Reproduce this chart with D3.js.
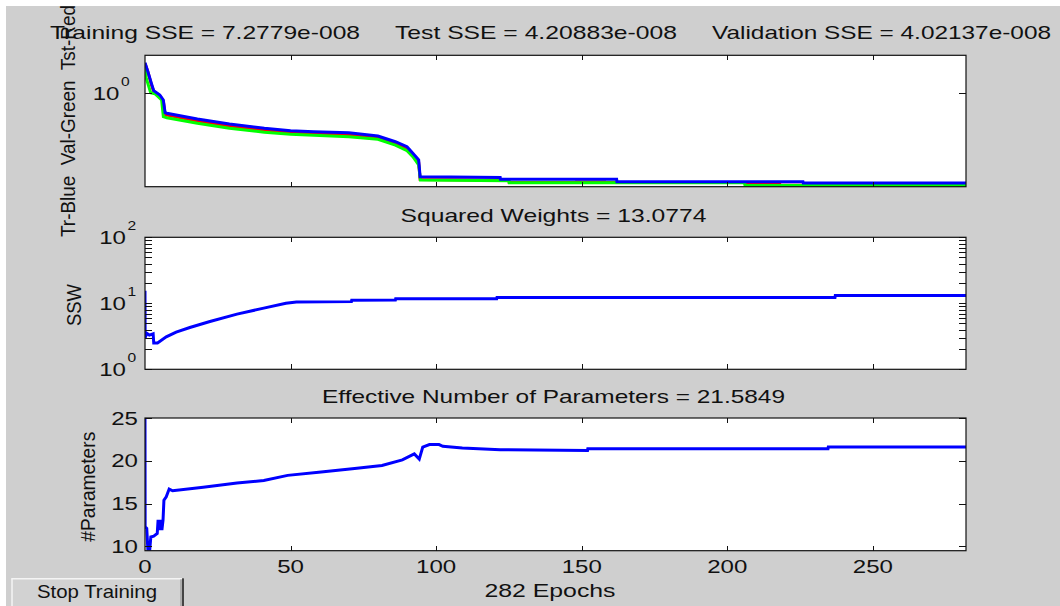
<!DOCTYPE html>
<html>
<head>
<meta charset="utf-8">
<script src="https://cdn.jsdelivr.net/npm/d3@7"></script>
<style>
  html, body { margin: 0; padding: 0; background: #ffffff; }
  svg { display: block; }
  text { font-family: "Liberation Sans", Arial, sans-serif; fill: #111; }
</style>
</head>
<body>
<svg id="chart" width="1060" height="606"></svg>
<script>
// ---------------- data ----------------
const xTickValues = [0, 50, 100, 150, 200, 250];
const xMax = 282;

// Panel 1: performance (log scale)
const trEpochs  = [0, 1, 2.2, 3, 5.1, 6.3, 6.9, 7.5, 18, 29, 41, 50, 58, 70, 80, 86, 90, 92, 94, 94.5, 105, 122, 122.1, 162, 162.1, 226, 226.1, 282];
const trPerf    = [2.27, 1.78, 1.30, 1.065, 0.948, 0.829, 0.587, 0.578, 0.495, 0.432, 0.385, 0.361, 0.352, 0.342, 0.313, 0.268, 0.234, 0.196, 0.164, 0.104, 0.103, 0.102, 0.097, 0.097, 0.091, 0.091, 0.0878, 0.0878];
const tstEpochs = [0, 1, 2.2, 3, 5.1, 6.3, 6.9, 7.5, 18, 29, 41, 50, 58, 70, 80, 86, 90, 92, 94, 94.5, 125, 125.1, 148, 148.1, 158, 158.1, 206, 206.1, 218, 218.1, 276, 276.1, 279, 279.1, 282];
const tstPerf   = [2.22, 1.77, 1.25, 1.04, 0.93, 0.80, 0.560, 0.552, 0.469, 0.410, 0.365, 0.344, 0.335, 0.324, 0.299, 0.257, 0.222, 0.187, 0.153, 0.0965, 0.0945, 0.0887, 0.0887, 0.0902, 0.0902, 0.0887, 0.0887, 0.0858, 0.0858, 0.0823, 0.0823, 0.0840, 0.0840, 0.0823, 0.0823];
const valEpochs = [0, 0.4, 1.95, 3.4, 5.7, 6.3, 7.5, 18, 29, 41, 50, 58, 70, 80, 86, 90, 92, 94, 94.6, 125, 125.1, 206, 206.1, 282];
const valPerf   = [2.13, 1.50, 1.01, 0.98, 0.829, 0.527, 0.513, 0.441, 0.385, 0.346, 0.328, 0.319, 0.307, 0.286, 0.245, 0.210, 0.179, 0.143, 0.0953, 0.0935, 0.0885, 0.0885, 0.0821, 0.0821];
const perfDomain = [0.0794, 2.773];
const perfTicks = [1];

// Panel 2: sum of squared weights (log scale)
const sswEpochs = [0, 0.05, 0.6, 1.5, 2.8, 3.0, 4.3, 7.3, 10.7, 15.4, 22.3, 31.6, 40.8, 48.4, 52, 70.9, 71, 86, 86.1, 120.8, 120.9, 237, 237.1, 282];
const sswVals   = [15.5, 3.0, 3.5, 3.3, 3.45, 2.5, 2.5, 3.1, 3.65, 4.3, 5.3, 6.85, 8.45, 10.0, 10.5, 10.6, 11.1, 11.2, 11.7, 11.7, 12.2, 12.2, 13.08, 13.08];
const sswDomain = [1, 100];
const sswMajorTicks = [1, 10, 100];
const sswMajorLabels = ["0", "1", "2"];
const sswMinorTicks = [2, 3, 4, 5, 6, 7, 8, 9, 20, 30, 40, 50, 60, 70, 80, 90];

// Panel 3: effective number of parameters (linear)
const parEpochs = [0, 0.05, 0.6, 1.0, 1.6, 2.0, 3.0, 4.2, 4.5, 5.0, 5.4, 5.8, 6.2, 6.5, 7.3, 8.3, 9.5, 20, 31.6, 40.8, 49, 60.5, 72, 81.4, 88.4, 92.5, 94.2, 95.4, 97.7, 101, 102.3, 109, 122, 152, 152.1, 234.6, 234.7, 282];
const parVals   = [25, 12.3, 12.1, 9.5, 9.5, 11.1, 11.2, 11.5, 13.1, 11.9, 13.1, 11.9, 13.1, 15.4, 15.8, 16.7, 16.5, 16.9, 17.4, 17.7, 18.3, 18.7, 19.1, 19.45, 20.1, 20.8, 20.2, 21.6, 21.9, 21.9, 21.7, 21.5, 21.3, 21.2, 21.4, 21.4, 21.6, 21.6];
const parDomain = [9.5, 25];
const parTicks = [10, 15, 20, 25];

// Texts
const titleParts = ["Training SSE = 7.2779e-008", "Test SSE = 4.20883e-008", "Validation SSE = 4.02137e-008"];
const title2 = "Squared Weights = 13.0774";
const title3 = "Effective Number of Parameters = 21.5849";
const yLabel1 = "Tr-Blue  Val-Green  Tst-Red";
const yLabel2 = "SSW";
const yLabel3 = "#Parameters";
const xLabel = "282 Epochs";
const buttonLabel = "Stop Training";

// ---------------- layout ----------------
const svg = d3.select("#chart");
const W = 1060, H = 606;
const X0 = 145, X1 = 966;
const SX = 1.3;      // horizontal glyph stretch of the reference text
const FS = 18.5;

svg.append("rect").attr("x", 0).attr("y", 0).attr("width", W).attr("height", H).attr("fill", "#cfcfcf");

const x = d3.scaleLinear().domain([0, xMax]).range([X0, X1]);

const panels = [
  { top: 55.3, bottom: 186.7, y: d3.scaleLog().domain(perfDomain) },
  { top: 237.3, bottom: 369.3, y: d3.scaleLog().domain(sswDomain) },
  { top: 418, bottom: 550.7, y: d3.scaleLinear().domain(parDomain) }
];
panels.forEach(p => p.y.range([p.bottom, p.top]));

function stretchedText(g, px, py, str, anchor, size, sx) {
  return g.append("text")
    .attr("transform", `translate(${px},${py}) scale(${sx},1)`)
    .attr("text-anchor", anchor)
    .style("font-size", size + "px")
    .text(str);
}
function fitText(g, px, py, str, len, size) {
  return g.append("text")
    .attr("x", px).attr("y", py)
    .attr("textLength", len)
    .attr("lengthAdjust", "spacingAndGlyphs")
    .style("font-size", size + "px")
    .style("white-space", "pre")
    .text(str);
}
function rotatedLabel(g, px, py, str, len, size) {
  return g.append("text")
    .attr("transform", `translate(${px},${py}) scale(1.1,1) rotate(-90)`)
    .attr("text-anchor", "middle")
    .attr("textLength", len)
    .attr("lengthAdjust", "spacingAndGlyphs")
    .style("font-size", size + "px")
    .style("white-space", "pre")
    .text(str);
}

panels.forEach((p, i) => {
  const g = svg.append("g");
  const clipId = "clip" + i;
  svg.append("clipPath").attr("id", clipId)
    .append("rect").attr("x", X0).attr("y", p.top).attr("width", X1 - X0).attr("height", p.bottom - p.top);
  g.append("rect").attr("x", X0).attr("y", p.top).attr("width", X1 - X0).attr("height", p.bottom - p.top)
    .attr("fill", "#ffffff");
  p.g = g; p.clipId = clipId;
});

// ---------------- lines ----------------
function drawLine(p, xs, ys, color) {
  const pts = xs.map((d, k) => [d, ys[k]]);
  const line = d3.line().x(d => x(d[0])).y(d => p.y(d[1]));
  p.g.append("path")
    .attr("d", line(pts))
    .attr("fill", "none")
    .attr("stroke", color)
    .attr("stroke-width", 3)
    .attr("stroke-linejoin", "miter")
    .attr("clip-path", `url(#${p.clipId})`);
}
drawLine(panels[0], tstEpochs, tstPerf, "#ff0000");
drawLine(panels[0], valEpochs, valPerf, "#00ff00");
drawLine(panels[0], trEpochs, trPerf, "#0000ff");
drawLine(panels[1], sswEpochs, sswVals, "#0000ff");
drawLine(panels[2], parEpochs, parVals, "#0000ff");

// ---------------- axes ----------------
function styleAxis(sel) {
  sel.select(".domain").remove();
  sel.selectAll(".tick line").attr("stroke", "#111").attr("stroke-width", 1).attr("shape-rendering", "crispEdges");
  sel.selectAll(".tick text").remove();
}
panels.forEach((p, i) => {
  const g = p.g;
  g.append("g").attr("transform", `translate(0,${p.bottom})`)
    .call(d3.axisBottom(x).tickValues(xTickValues.filter(v => v > 0)).tickSize(-5)).call(styleAxis);
  g.append("g").attr("transform", `translate(0,${p.top})`)
    .call(d3.axisTop(x).tickValues(xTickValues.filter(v => v > 0)).tickSize(-5)).call(styleAxis);
  let yt;
  if (i === 0) yt = perfTicks;
  else if (i === 1) yt = sswMajorTicks.concat(sswMinorTicks);
  else yt = parTicks;
  g.append("g").attr("transform", `translate(${X0},0)`)
    .call(d3.axisLeft(p.y).tickValues(yt).tickSize(-7)).call(styleAxis);
  g.append("g").attr("transform", `translate(${X1},0)`)
    .call(d3.axisRight(p.y).tickValues(yt).tickSize(-7)).call(styleAxis);
  g.append("rect").attr("x", X0).attr("y", p.top).attr("width", X1 - X0).attr("height", p.bottom - p.top)
    .attr("fill", "none").attr("stroke", "#111").attr("stroke-width", 1.2);
});

// tick labels
const tl = svg.append("g");
// panel 1: 10^0
perfTicks.forEach(v => {
  const yy = panels[0].y(v);
  stretchedText(tl, 119.5, yy + 6.5, "10", "end", FS, SX);
  stretchedText(tl, 121, yy - 7.5, String(Math.round(Math.log10(v))), "start", 12, SX);
});
// panel 2: 10^0, 10^1, 10^2
sswMajorTicks.forEach((v, k) => {
  const yy = panels[1].y(v);
  stretchedText(tl, 126, yy + 6.5, "10", "end", FS, SX);
  stretchedText(tl, 127.5, yy - 7.5, sswMajorLabels[k], "start", 12, SX);
});
// panel 3
parTicks.forEach(v => {
  const yy = panels[2].y(v);
  stretchedText(tl, 138, yy + 6.6, String(v), "end", FS, SX);
});
// x tick labels on bottom panel
xTickValues.forEach(v => {
  stretchedText(tl, x(v), 573.3, String(v), "middle", FS, SX);
});

// ---------------- titles & labels ----------------
const tg = svg.append("g");
fitText(tg, 50, 39.3, titleParts[0], 310, FS);
fitText(tg, 395, 39.3, titleParts[1], 282, FS);
fitText(tg, 712, 39.3, titleParts[2], 339, FS);
fitText(tg, 400.5, 221.7, title2, 306, FS);
fitText(tg, 322, 403.3, title3, 463, FS);
fitText(tg, 484.5, 597.3, xLabel, 131, FS);

rotatedLabel(tg, 75, 121, yLabel1, 232, 18);
rotatedLabel(tg, 81, 305, yLabel2, 42, 18);
rotatedLabel(tg, 94.5, 486.7, yLabel3, 110, 18);

// ---------------- button ----------------
const b = svg.append("g");
const bx0 = 11.5, bx1 = 184, by0 = 578.3, by1 = 607;
b.append("rect").attr("x", bx0).attr("y", by0).attr("width", bx1 - bx0).attr("height", by1 - by0)
  .attr("fill", "#d2d2d2");
b.append("line").attr("x1", bx0).attr("y1", by0 + 0.5).attr("x2", bx1).attr("y2", by0 + 0.5).attr("stroke", "#f4f4f4").attr("stroke-width", 1.5);
b.append("line").attr("x1", bx0 + 0.5).attr("y1", by0).attr("x2", bx0 + 0.5).attr("y2", by1).attr("stroke", "#f4f4f4").attr("stroke-width", 1.5);
b.append("line").attr("x1", bx1 - 1).attr("y1", by0).attr("x2", bx1 - 1).attr("y2", by1).attr("stroke", "#444").attr("stroke-width", 2);
b.append("line").attr("x1", bx1 - 3).attr("y1", by0 + 1).attr("x2", bx1 - 3).attr("y2", by1).attr("stroke", "#888").attr("stroke-width", 1);
fitText(b, 37, 598.3, buttonLabel, 120, FS);

// ---------------- white frame edges (top and left) ----------------
svg.append("rect").attr("x", 0).attr("y", 0).attr("width", W).attr("height", 6).attr("fill", "#ffffff");
svg.append("rect").attr("x", 0).attr("y", 0).attr("width", 6).attr("height", H).attr("fill", "#ffffff");
</script>
</body>
</html>
